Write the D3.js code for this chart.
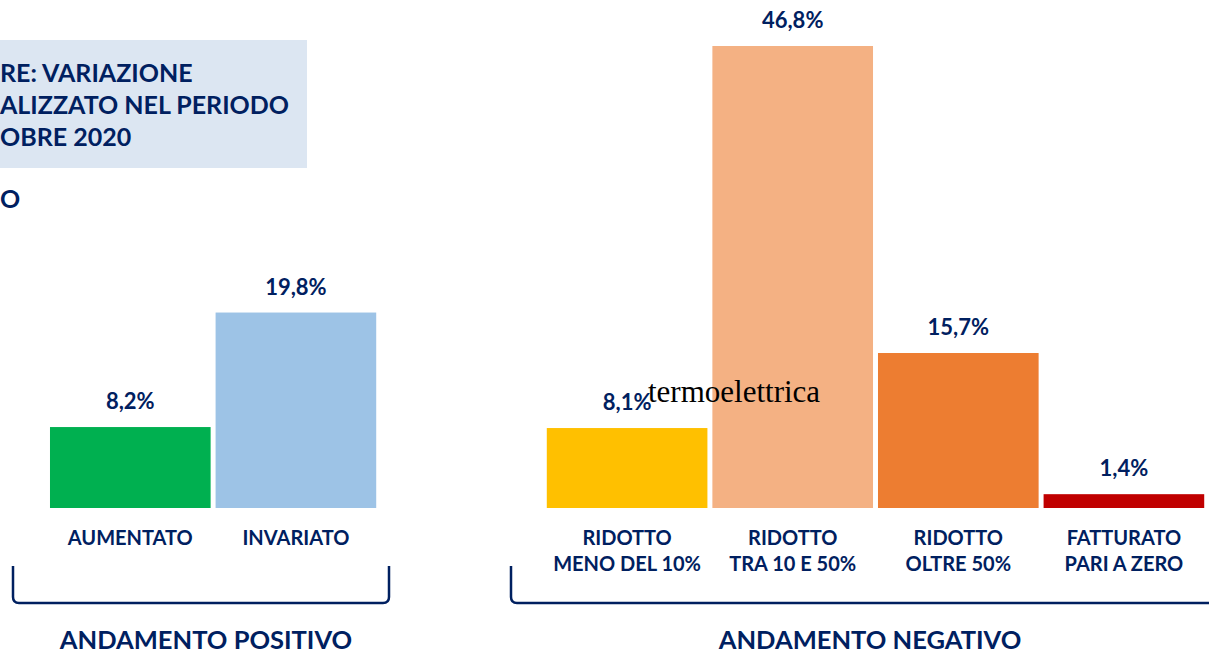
<!DOCTYPE html>
<html>
<head>
<meta charset="utf-8">
<script src="https://cdn.jsdelivr.net/npm/d3@7"></script>
<style>
  body { margin: 0; background: #fff; }
  svg { display: block; }
  text { font-family: "Lato", "DejaVu Sans", sans-serif; font-weight: bold; fill: #002060; }
</style>
</head>
<body>
<div id="chart"></div>
<script>
// categories (blank slot separates the two groups)
var categories = ["AUMENTATO", "INVARIATO", "gap", "RIDOTTO_A", "RIDOTTO_B", "RIDOTTO_C", "FATTURATO"];
var catLines = [["AUMENTATO"], ["INVARIATO"], [], ["RIDOTTO", "MENO DEL 10%"], ["RIDOTTO", "TRA 10 E 50%"], ["RIDOTTO", "OLTRE 50%"], ["FATTURATO", "PARI A ZERO"]];
var values = [8.2, 19.8, null, 8.1, 46.8, 15.7, 1.4];
var valueLabels = ["8,2%", "19,8%", "", "8,1%", "46,8%", "15,7%", "1,4%"];
var colors = ["#00b050", "#9dc3e6", "none", "#ffc000", "#f4b183", "#ed7d31", "#c00000"];
var titleLines = ["RE: VARIAZIONE", "ALIZZATO NEL PERIODO", "OBRE 2020"];
var groupNames = ["ANDAMENTO POSITIVO", "ANDAMENTO NEGATIVO"];

var w = 1209, h = 653;
var navy = "#002060";

var svg = d3.select("#chart").append("svg")
  .attr("width", w)
  .attr("height", h);

//title box, cut at the left edge
svg.append("rect")
  .attr("x", 0).attr("y", 40)
  .attr("width", 307).attr("height", 128)
  .attr("fill", "#dce6f2");

svg.selectAll(".title")
  .data(titleLines)
  .enter().append("text")
  .attr("class", "title")
  .attr("x", 0)
  .attr("y", function(d, i) { return 82 + i * 32; })
  .style("font-size", "25px")
  .text(function(d) { return d; });

svg.append("text")
  .attr("x", 0).attr("y", 208)
  .style("font-size", "25px")
  .text("O");

//scales
var x = d3.scaleBand()
  .domain(categories)
  .range([47.5, 47.5 + 7 * 165.6])
  .paddingInner(0.03)
  .paddingOuter(0.015);

var y = d3.scaleLinear()
  .domain([0, 46.8])
  .range([508, 46]);

var idx = d3.range(categories.length).filter(function(i) { return values[i] !== null; });

svg.selectAll(".bar")
  .data(idx)
  .enter().append("rect")
  .attr("class", "bar")
  .attr("x", function(i) { return x(categories[i]); })
  .attr("y", function(i) { return y(values[i]); })
  .attr("width", x.bandwidth())
  .attr("height", function(i) { return y(0) - y(values[i]); })
  .attr("fill", function(i) { return colors[i]; });

svg.selectAll(".val")
  .data(idx)
  .enter().append("text")
  .attr("class", "val")
  .attr("x", function(i) { return x(categories[i]) + x.bandwidth() / 2; })
  .attr("y", function(i) { return y(values[i]) - 18; })
  .attr("text-anchor", "middle")
  .style("font-size", "22px")
  .text(function(i) { return valueLabels[i]; });

//category labels
idx.forEach(function(i) {
  var t = svg.append("text")
    .attr("text-anchor", "middle")
    .style("font-size", "20px");
  catLines[i].forEach(function(line, k) {
    t.append("tspan")
      .attr("x", x(categories[i]) + x.bandwidth() / 2)
      .attr("y", 545 + k * 26)
      .text(line);
  });
});

//brackets
var r = 6;
svg.append("path")
  .attr("d", "M13,566 V" + (603 - r) + " Q13,603 " + (13 + r) + ",603 H" + (389 - r) + " Q389,603 389," + (603 - r) + " V566")
  .attr("fill", "none").attr("stroke", navy).attr("stroke-width", 2.5);

svg.append("path")
  .attr("d", "M511,566 V" + (603 - r) + " Q511,603 " + (511 + r) + ",603 H1215")
  .attr("fill", "none").attr("stroke", navy).attr("stroke-width", 2.5);

svg.selectAll(".group")
  .data(groupNames)
  .enter().append("text")
  .attr("class", "group")
  .attr("x", function(d, i) { return i === 0 ? 206 : 870; })
  .attr("y", 649)
  .attr("text-anchor", "middle")
  .style("font-size", "25.5px")
  .text(function(d) { return d; });

//watermark
svg.append("text")
  .attr("x", 648).attr("y", 402)
  .style("font-family", "'Liberation Serif', 'Times New Roman', serif")
  .style("font-weight", "normal")
  .style("fill", "#000")
  .style("font-size", "31px")
  .text("termoelettrica");
</script>
</body>
</html>
